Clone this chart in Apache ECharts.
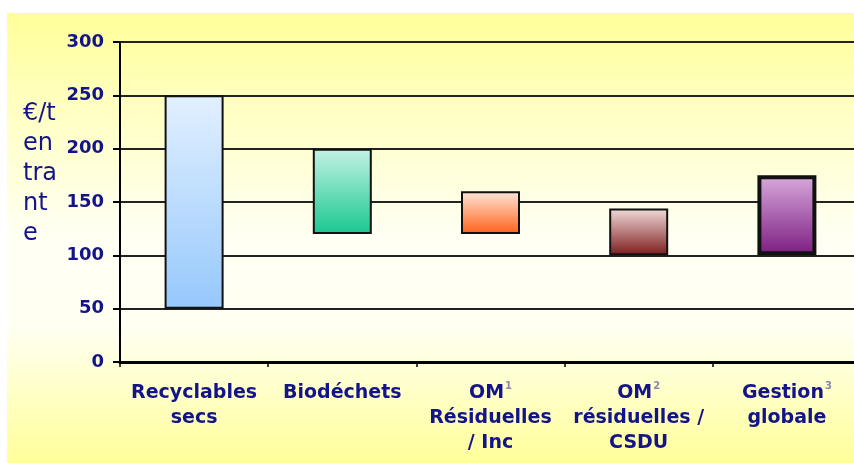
<!DOCTYPE html>
<html><head><meta charset="utf-8">
<script src="https://cdn.jsdelivr.net/npm/echarts@6/dist/echarts.min.js"></script>
<style>html,body{margin:0;padding:0;background:#fff}#c{width:854px;height:463px}</style>
</head><body><div id="c"></div>
<script>
const categories = ['Recyclables\nsecs', 'Biodéchets', '{b|OM}{s|1}\n{b|Résiduelles}\n{b|/ Inc}', '{b|OM}{s|2}\n{b|résiduelles /}\n{b|CSDU}', '{b|Gestion}{s|3}\n{b|globale}'];
const lows = [50, 120, 120, 100, 100];
const highs = [250, 200, 160, 144, 175];
const yTicks = [0, 50, 100, 150, 200, 250, 300];
const gradients = [
  ['#e2f0ff', '#96c8fc'],
  ['#c4f2e4', '#18c890'],
  ['#ffe6da', '#ff6018'],
  ['#f2dcdc', '#7c1c1c'],
  ['#d8aadc', '#7c1c80']
];
const borderWidths = [2, 2, 2, 2, 4];

const navy = '#14148a';
const chart = echarts.init(document.getElementById('c'));
chart.setOption({
  animation: false,
  backgroundColor: '#ffffff',
  graphic: [
    { type: 'rect', z: -100, shape: { x: 7, y: 13, width: 847, height: 450 },
      style: { fill: { type: 'linear', x: 0, y: 0, x2: 0, y2: 1, colorStops: [
        { offset: 0, color: '#ffff99' }, { offset: 0.2, color: '#ffffc0' },
        { offset: 0.5, color: '#fffff4' }, { offset: 0.7, color: '#fffff2' },
        { offset: 1, color: '#ffff99' }] } } },
    { type: 'text', left: 23, top: 99, z: 10,
      style: { text: '€/t\nen\ntra\nnt\ne', fill: navy, font: '24px "DejaVu Sans"', lineHeight: 30 } }
  ],
  grid: { left: 120, top: 42, bottom: 101, width: 741, containLabel: false, outerBoundsMode: 'none' },
  xAxis: {
    type: 'category', data: categories,
    axisLine: { lineStyle: { color: '#000', width: 3 } },
    axisTick: { show: true, length: 5, lineStyle: { color: '#000', width: 1.5 } },
    axisLabel: { interval: 0, margin: 19, color: navy, fontFamily: 'DejaVu Sans', fontWeight: 'bold', fontSize: 19, lineHeight: 25,
      rich: { b: { color: navy, fontFamily: 'DejaVu Sans', fontWeight: 'bold', fontSize: 19, lineHeight: 25 },
              s: { color: '#8888aa', fontFamily: 'DejaVu Sans', fontSize: 10, lineHeight: 25, verticalAlign: 'top', padding: [0, 0, 10, 1] } } }
  },
  yAxis: {
    type: 'value', min: 0, max: 300, interval: 50,
    axisLine: { show: true, lineStyle: { color: '#000', width: 2 } },
    axisTick: { show: true, length: 7, lineStyle: { color: '#000', width: 2 } },
    axisLabel: { margin: 16, color: navy, fontFamily: 'DejaVu Sans', fontWeight: 'bold', fontSize: 18,
      formatter: v => yTicks.includes(v) ? String(v) : '' },
    splitLine: { show: true, lineStyle: { color: '#222', width: 2 } }
  },
  series: [
    { type: 'bar', stack: 'a', silent: true, barWidth: 59, data: lows,
      itemStyle: { color: 'rgba(0,0,0,0)' } },
    { type: 'bar', stack: 'a', barWidth: 59,
      data: highs.map((h, i) => ({
        value: h - lows[i],
        itemStyle: {
          color: { type: 'linear', x: 0, y: 0, x2: 0, y2: 1, colorStops: [
            { offset: 0, color: gradients[i][0] }, { offset: 1, color: gradients[i][1] }] },
          borderColor: '#111', borderWidth: borderWidths[i]
        }
      }))
    }
  ]
});
</script></body></html>
